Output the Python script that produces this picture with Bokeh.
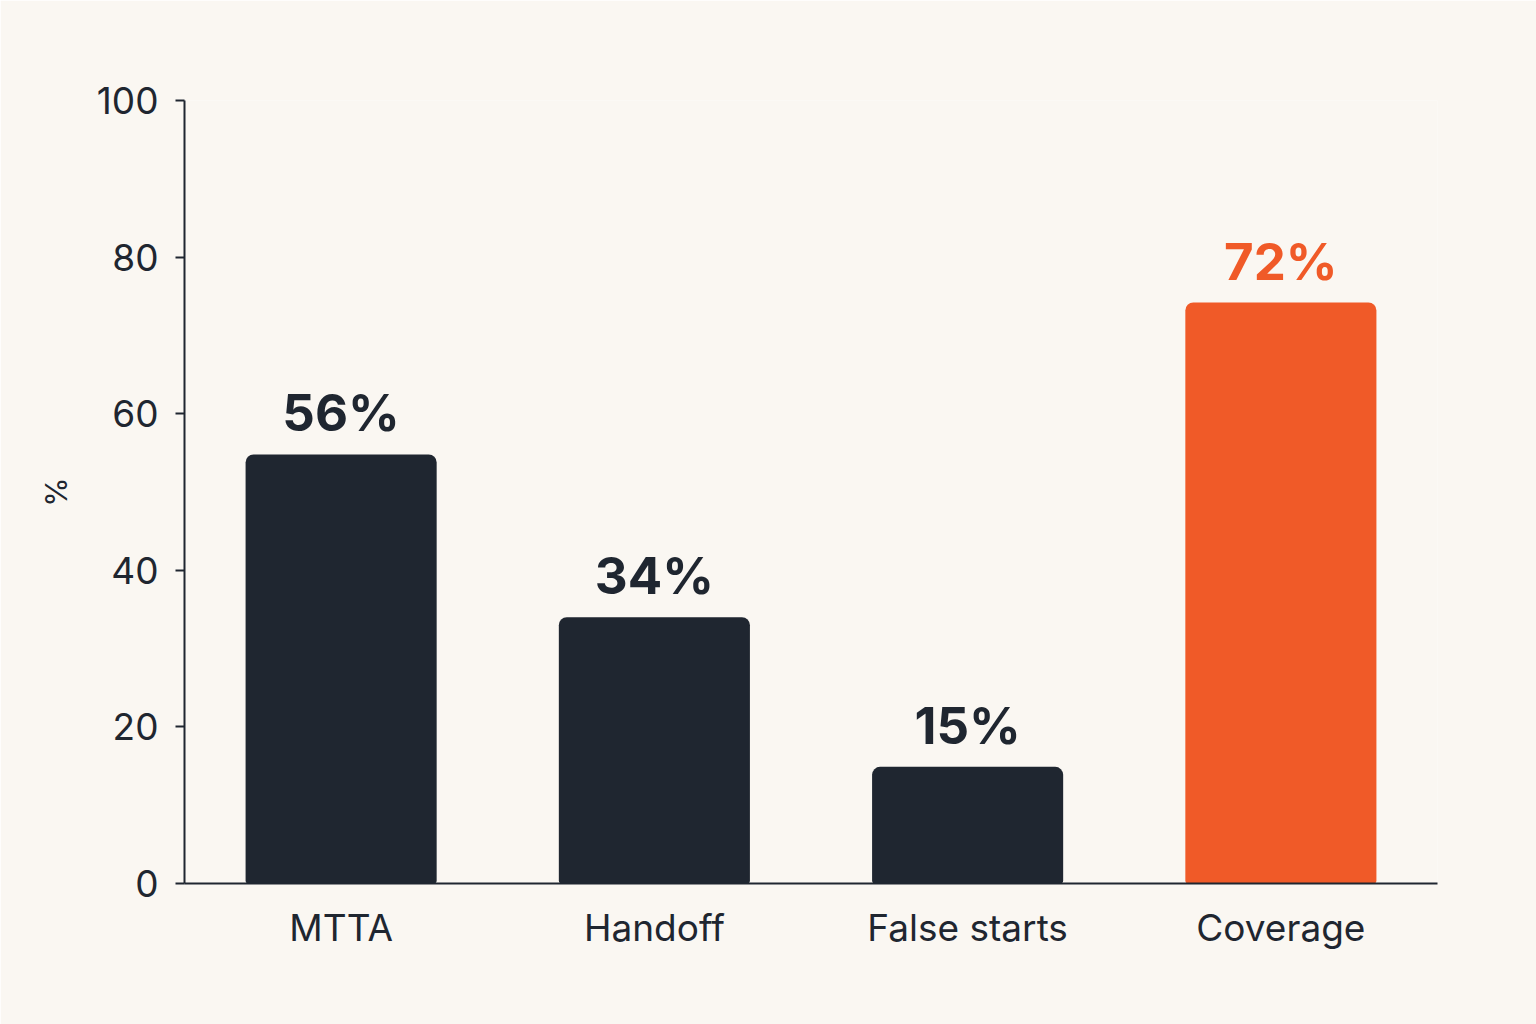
from bokeh.plotting import figure
from bokeh.models import ColumnDataSource, FactorRange, Range1d, FixedTicker
from bokeh.core.properties import value
from bokeh.embed import file_html
from bokeh.resources import INLINE

categories = ["MTTA", "Handoff", "False starts", "Coverage"]
bar_values = [54.8, 34.0, 14.9, 74.2]
bar_labels = ["56%", "34%", "15%", "72%"]
bar_colors = ["#1F2630", "#1F2630", "#1F2630", "#F05A28"]
y_ticks = [0, 20, 40, 60, 80, 100]

BG = "#FAF7F2"
INK = "#1F2630"
FONT = "Inter"

src = ColumnDataSource(dict(cat=categories, val=bar_values, lab=bar_labels, col=bar_colors))

p = figure(width=1536, height=1024, x_range=FactorRange(*categories), y_range=Range1d(0, 100),
           output_backend="svg", toolbar_location=None,
           min_border_left=184, min_border_right=99, min_border_top=100, min_border_bottom=141)
p.background_fill_color = BG
p.border_fill_color = BG
p.outline_line_color = None
p.xgrid.grid_line_color = None
p.ygrid.grid_line_color = None

p.vbar(x="cat", top="val", width=0.61, source=src, fill_color="col", line_color=None,
       border_radius=(8, 8, 3, 3))

p.text(x="cat", y="val", text="lab", source=src, text_color="col", text_align="center",
       text_baseline="bottom", y_offset=-11, text_font=value(FONT), text_font_size="51px",
       text_font_style="bold")

ya = p.yaxis[0]
ya.ticker = FixedTicker(ticks=y_ticks)
ya.axis_line_color = INK
ya.axis_line_width = 2
ya.major_tick_line_color = INK
ya.major_tick_line_width = 2
ya.major_tick_out = 9
ya.major_tick_in = 0
ya.minor_tick_line_color = None
ya.major_label_standoff = 17
ya.major_label_text_font = FONT
ya.major_label_text_font_size = "37px"
ya.major_label_text_color = INK
ya.axis_label = "%"
ya.axis_label_text_font = FONT
ya.axis_label_text_font_size = "30px"
ya.axis_label_text_font_style = "normal"
ya.axis_label_text_color = INK
ya.axis_label_standoff = 20

xa = p.xaxis[0]
xa.axis_line_color = INK
xa.axis_line_width = 2
xa.major_tick_line_color = None
xa.minor_tick_line_color = None
xa.major_label_standoff = 15
xa.major_label_text_font = FONT
xa.major_label_text_font_size = "37px"
xa.major_label_text_color = INK

html = file_html(p, INLINE)
open("out.html", "w").write(html)
